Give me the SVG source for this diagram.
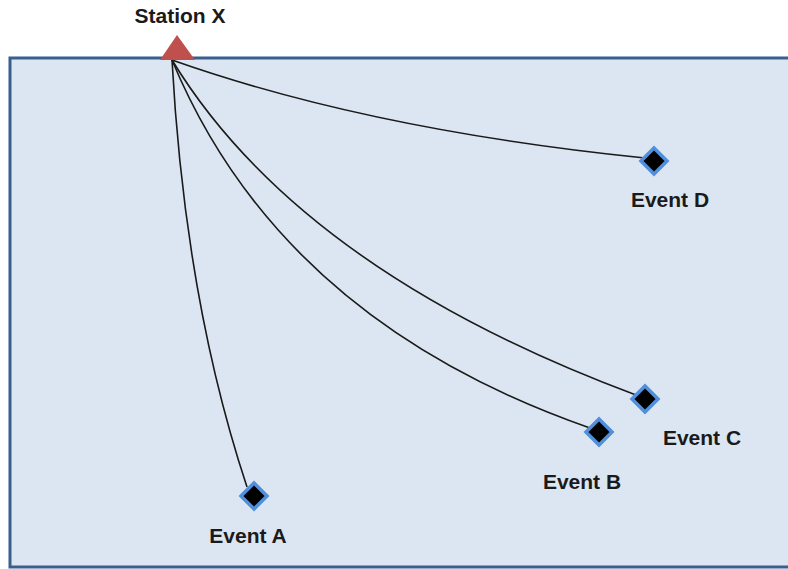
<svg xmlns="http://www.w3.org/2000/svg" width="788" height="569" viewBox="0 0 788 569">
<style>
.lbl{font-family:"Liberation Sans",Arial,sans-serif;font-weight:bold;font-size:21px;fill:#1a1a1a;text-anchor:middle}
.path{fill:none;stroke:#1a1a1a;stroke-width:1.6}
.ev{fill:#000;stroke:#4f8fdc;stroke-width:3.5;stroke-linejoin:miter}
</style>
<rect x="10" y="58" width="790" height="509" fill="#dce6f2" stroke="#3a5f8e" stroke-width="3"/>
<g id="connectors">
<path class="path" d="M172,60 Q185,300 247,487"/>
<path class="path" d="M172,60 Q370,130 645,158"/>
<path class="path" d="M172,60 Q300,270 636,395"/>
<path class="path" d="M172,60 Q280,320 590,428"/>
</g>
<g id="station-x">
<polygon points="177,35 195,60 160,60" fill="#c0504d"/>
<text class="lbl" x="180" y="23">Station X</text>
</g>
<g id="event-a">
<polygon class="ev" points="254,483 267,496 254,509 241,496"/>
<text class="lbl" x="248" y="543">Event A</text>
</g>
<g id="event-b">
<polygon class="ev" points="599,419 612,432 599,445 586,432"/>
<text class="lbl" x="582" y="489">Event B</text>
</g>
<g id="event-c">
<polygon class="ev" points="645,386 658,399 645,412 632,399"/>
<text class="lbl" x="702" y="445">Event C</text>
</g>
<g id="event-d">
<polygon class="ev" points="654,148 667,161 654,174 641,161"/>
<text class="lbl" x="670" y="207">Event D</text>
</g>
</svg>
